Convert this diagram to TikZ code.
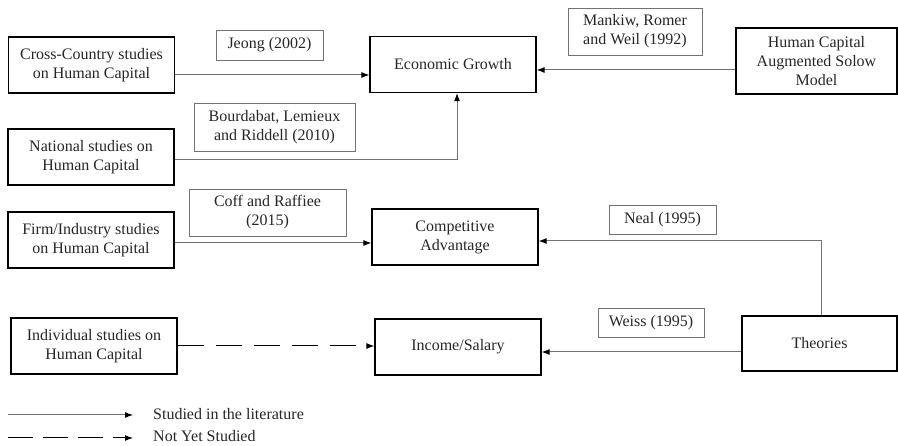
\documentclass[tikz,border=0pt]{standalone}
\usepackage{fontspec}
\setmainfont{Liberation Serif}
\usetikzlibrary{arrows.meta,shapes}

\begin{document}
\begin{tikzpicture}[x=1pt,y=-1pt,>={Latex[length=8pt,width=6pt,black]},
		every node/.style={font=\fontsize{16}{19}\selectfont,align=center,text=black!85,inner sep=0pt},
		box/.style={draw,line width=1.2pt,minimum width=166pt,minimum height=56pt},
		cite/.style={draw=black!55,line width=0.9pt},
		link/.style={draw=black!55,line width=1pt}]
		\useasboundingbox (0,0) rectangle (898,446);
		\node[box] (CCS) at (91.5,65) {Cross-Country studies\\on Human Capital};
		\node[cite,minimum width=107pt,minimum height=30pt] (Jeong) at (269.5,45) {Jeong (2002)};
		\node[box] (EG) at (453,64.5) {Economic Growth};
		\node[cite,minimum width=134pt,minimum height=47pt] (MRW) at (635,31.5) {Mankiw, Romer\\and Weil (1992)};
		\node[box,minimum width=161pt,minimum height=66pt] (HCASM) at (816.5,61) {Human Capital\\Augmented Solow\\Model};
		\node[cite,minimum width=161pt,minimum height=48pt] (BLR) at (274.5,127) {Bourdabat, Lemieux\\and Riddell (2010)};
		\node[box] (NS) at (91,157) {National studies on\\Human Capital};
		\node[cite,minimum width=157pt,minimum height=47pt] (CR) at (267.5,212.5) {Coff and Raffiee\\(2015)};
		\node[box] (FIS) at (91,240) {Firm/Industry studies\\on Human Capital};
		\node[box] (CA) at (455,237) {Competitive\\Advantage};
		\node[cite,minimum width=107pt,minimum height=29pt] (Neal) at (662.5,219.5) {Neal (1995)};
		\node[cite,minimum width=106pt,minimum height=29pt] (Weiss) at (651,322.5) {Weiss (1995)};
		\node[box,minimum width=155pt,minimum height=55pt] (Th) at (819.5,343.5) {Theories};
		\node[box] (IS) at (458,347) {Income/Salary};
		\node[box] (ISHC) at (94,346) {Individual studies on\\Human Capital};
		\draw[link,->] ([yshift=-10pt]CCS.east) -- ([yshift=-10pt]CCS.east -| EG.west);
		\draw[link,->] ([yshift=-9pt]HCASM.west) -- ([yshift=-9pt]HCASM.west -| EG.east);
		\draw[link,->] ([yshift=-3pt]NS.east) -| ([xshift=4pt]EG.south);
		\draw[link,->] ([yshift=-3pt]FIS.east) -- ([yshift=-3pt]FIS.east -| CA.west);
		\draw[link,->] ([xshift=1.5pt]Th.north) |- ([yshift=-4pt]CA.east);
		\draw[link,->] ([yshift=-8.5pt]Th.west) -- ([yshift=-8.5pt]Th.west -| IS.east);
		\draw[link,draw=black,dash pattern=on 26pt off 12pt,->] (ISHC.east) -- (ISHC.east -| IS.west);
		% legend
		\node[anchor=west] (Lit) at (153,414) {Studied in the literature};
		\node[anchor=west] (NYS) at (153,436.5) {Not Yet Studied};
		\coordinate (LitS) at (8,415);
		\coordinate (NYSS) at (8,438);
		\draw[link,->] (LitS) -- ([xshift=-20pt]LitS -| Lit.west);
		\draw[link,draw=black,dash pattern=on 25pt off 10pt,->] (NYSS) -- ([xshift=-20pt]NYSS -| NYS.west);
	\end{tikzpicture}
\end{document}
